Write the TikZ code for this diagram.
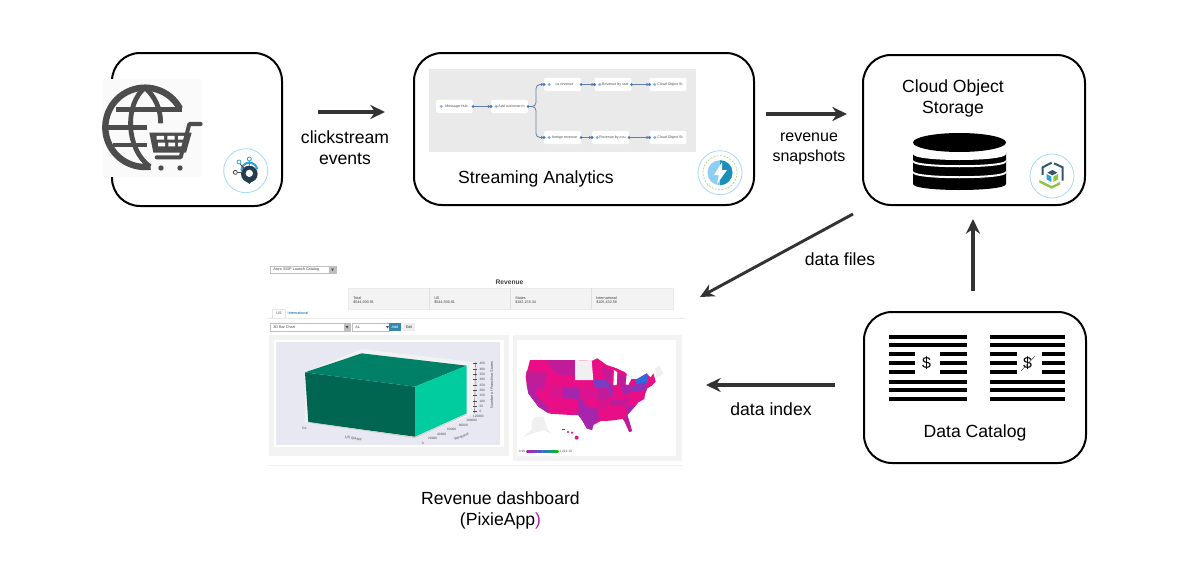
\documentclass[tikz,border=0pt]{standalone}
\usepackage{fontspec}
\setmainfont{Liberation Sans}
\usetikzlibrary{arrows.meta}
\definecolor{ink}{HTML}{333333}
\definecolor{iconink}{HTML}{4D4D4D}
\definecolor{ringblue}{HTML}{A5D8FB}
\definecolor{flowbg}{HTML}{EAEAEA}
\definecolor{flowline}{HTML}{5E7F9F}
\definecolor{flowdot}{HTML}{4472C4}
\definecolor{panel}{HTML}{F3F3F3}
\definecolor{plotbg}{HTML}{E8E8F2}
\definecolor{mp}{HTML}{EA0E86}
\definecolor{mq}{HTML}{C01C9A}
\definecolor{mr}{HTML}{A526AC}
\definecolor{ms}{HTML}{7A3CC4}
\definecolor{mt}{HTML}{3568DC}
\definecolor{mg}{HTML}{F0F0F0}
\definecolor{bartop}{HTML}{008066}
\definecolor{barleft}{HTML}{006652}
\definecolor{barright}{HTML}{00CCA0}
\definecolor{slate}{HTML}{34566F}
\definecolor{leaf}{HTML}{8CC63F}
\definecolor{sky}{HTML}{2E9FD8}
\definecolor{boltlight}{HTML}{8CCFF2}
\definecolor{boltdark}{HTML}{1A8FB8}
\tikzset{
  x=.75pt,y=-.75pt,
  boxnode/.style={draw=black,line width=1.5pt,rounded corners=21pt,fill=white,inner sep=0pt},
  flow/.style={-{Stealth[length=10.5pt,width=10pt]},draw=ink,line width=2.2pt},
  flowstraight/.style={draw=ink,line width=2.5pt,-{Stealth[length=11pt,width=10.5pt]}},
  lab/.style={font=\fontsize{13.2}{16}\selectfont,align=center,text=black,inner sep=0pt},
  badge/.style={draw=ringblue,line width=.6pt,fill=white,circle,minimum size=33pt,inner sep=0pt},
  fnode/.style={fill=white,rounded corners=1pt,minimum width=27.5pt,minimum height=10pt,inner sep=0pt,font=\fontsize{2.7}{3}\selectfont,text=black!70},
  fline/.style={draw=flowline,line width=.6pt,-{Stealth[length=2.4pt,width=2.4pt]}},
  tiny/.style={font=\fontsize{2.8}{3.2}\selectfont,text=black!75,inner sep=0pt},
  axt/.style={font=\fontsize{2.4}{3}\selectfont,text=black!70,inner sep=0pt},
  axl/.style={font=\fontsize{2.8}{3}\selectfont,text=black!70,inner sep=0pt},
  bar/.style={fill=black},
  ui/.style={draw=black!25,line width=.3pt,fill=white,inner sep=0pt}
}
\begin{document}
\begin{tikzpicture}
\useasboundingbox (0,0) rectangle (1200,564);
% ---------- boxes
\node[boxnode,minimum width=127.5pt,minimum height=114.75pt] (shop) at (197,129.5) {};
\node[boxnode,minimum width=255pt,minimum height=114pt] (stream) at (584,129) {};
\node[boxnode,minimum width=166.5pt,minimum height=112.5pt] (cos) at (974,130) {};
\node[boxnode,minimum width=166.5pt,minimum height=113.25pt] (cat) at (975,387.5) {};
% ---------- shop icon
\fill[white!98!black] (103,79) rectangle (202,177);
\begin{scope}[shift={(90,40)},scale=1/3]
  \draw[iconink,line width=4.8pt] (165,262) ++(-28:119) arc[start angle=-28,end angle=-278,radius=119];
  \draw[iconink,line width=3.6pt] (165,143) .. controls (105,190) and (105,325) .. (180,380);
  \draw[iconink,line width=3.6pt] (165,143) .. controls (195,170) and (212,205) .. (212,250);
  \draw[iconink,line width=3.6pt] (78,208) -- (275,208);
  \draw[iconink,line width=3.6pt] (50,262) -- (170,262);
  \draw[iconink,line width=3.6pt] (68,315) -- (170,315);
  \fill[iconink] (178,278) -- (305,278) -- (288,338) -- (190,338) -- cycle;
  \fill[white] (200,288) rectangle (222,299) (232,288) rectangle (254,299) (264,288) rectangle (286,299)
               (204,308) rectangle (225,319) (235,308) rectangle (255,319) (264,308) rectangle (282,319);
  \draw[iconink,line width=3pt,line cap=round,line join=round] (332,252) -- (298,252) -- (272,352) -- (200,352);
  \fill[iconink] (213,384) circle (8) (270,384) circle (8);
\end{scope}
% ---------- badge 1
\node[badge] (b1) at (245.7,170.7) {};
\begin{scope}[shift={(90,40)},scale=1/3]
  \fill[slate!70!black] (478,402) circle (25);
  \fill[slate!70!black] (465,420) -- (490,420) -- (478,432) -- cycle;
  \fill[white] (478,400) circle (11);
  \draw[sky,line width=1.5pt] (454,392) arc[start angle=180,end angle=350,radius=24];
  \draw[iconink,line width=.6pt] (436,397) -- (460,397);
  \draw[iconink,line width=.6pt] (447,368) -- (462,385);
  \draw[sky,line width=.6pt] (478,358) -- (478,378);
  \draw[iconink,line width=.6pt,fill=white] (436,397) circle (6);
  \draw[sky,line width=.6pt,fill=white] (447,366) circle (6) (478,357) circle (6);
\end{scope}
% ---------- streaming flow
\fill[flowbg] (429,69) rectangle (696,152);
\node[fnode] (f1) at (454.5,106.5) {\hspace*{3pt}Message Hub};
\node[fnode] (f2) at (509.5,106.5) {\hspace*{3pt}Add customer in};
\node[fnode] (f3) at (562.5,84.5) {\hspace*{3pt}us revenue};
\node[fnode] (f4) at (613,84.5) {\hspace*{3pt}Revenue by stat};
\node[fnode] (f5) at (668,84.5) {\hspace*{3pt}Cloud Object St};
\node[fnode] (f6) at (562.5,137.5) {\hspace*{3pt}foreign revenue};
\node[fnode] (f7) at (610.5,137.5) {\hspace*{3pt}Revenue by cou};
\node[fnode] (f8) at (668,137.5) {\hspace*{3pt}Cloud Object St};
\draw[fline] (f1.east) -- (f2.west);
\draw[fline] (f3.east) -- (f4.west);
\draw[fline] (f4.east) -- (f5.west);
\draw[fline] (f6.east) -- (f7.west);
\draw[fline] (f7.east) -- (f8.west);
\draw[fline,rounded corners=3pt] (f2.east) -- (536,106.5) -- (536,84.5) -- (f3.west);
\draw[fline,rounded corners=3pt] (f2.east) -- (536,106.5) -- (536,137.5) -- (f6.west);
\foreach \p in {f1,f2,f3,f4,f6,f7} \fill[flowdot] (\p.east) circle (1.6);
\foreach \p in {f2,f3,f4,f5,f6,f7,f8} \fill[flowdot] (\p.west) circle (1.6);
\foreach \p in {f1,f2,f3,f4,f5,f6,f7,f8} \fill[flowdot!60] ([xshift=4pt]\p.west) circle (1.7);
\node[lab] (sa) at (536,178.5) {Streaming Analytics};
% ---------- badge 2
\node[badge] (b2) at (720,172.7) {};
\draw[leaf!70,line width=.5pt,dash pattern=on 1.5pt off 1pt] (b2.center) circle (17);
\fill[boltlight] (b2.center) circle (12.5);
\fill[boltdark] (b2.center) ++(0,-12.5) arc[start angle=-90,end angle=90,radius=12.5] -- cycle;
\fill[white] (722,162) -- (714,175) -- (719,175) -- (717,184) -- (727,170) -- (722,170) -- cycle;
% ---------- cloud object storage
\node[lab] (costext) at (953,98.5) {Cloud Object\\[-.5pt]Storage};
\fill[black] (913,184) .. controls (913,192) and (1006,192) .. (1006,184) -- (1006,173) .. controls (1006,181) and (913,181) .. (913,173) -- cycle;
\fill[black] (913,174) .. controls (913,181) and (1006,181) .. (1006,174) -- (1006,161) .. controls (1006,169) and (913,169) .. (913,161) -- cycle;
\fill[white] (913,171) .. controls (913,178) and (1006,178) .. (1006,171) -- (1006,173) .. controls (1006,180) and (913,180) .. (913,173) -- cycle;
\fill[black] (913,163) .. controls (913,170) and (1006,170) .. (1006,163) -- (1006,152) .. controls (1006,160) and (913,160) .. (913,152) -- cycle;
\fill[white] (913,160) .. controls (913,167) and (1006,167) .. (1006,160) -- (1006,162) .. controls (1006,169) and (913,169) .. (913,162) -- cycle;
\fill[white] (913,151) .. controls (913,159) and (1006,159) .. (1006,151) -- (1006,154) .. controls (1006,162) and (913,162) .. (913,154) -- cycle;
\fill[black] (959.5,142.5) ellipse (46.5 and 9.5);
% ---------- badge 3
\node[badge] (b3) at (1052,176) {};
\begin{scope}[shift={(860,50)},scale=1/3]
  \draw[slate,line width=1.5pt] (548,375) -- (548,352) -- (575,338);
  \draw[slate,line width=1.5pt] (582,340) -- (608,352) -- (608,392);
  \fill[slate] (577,360) -- (592,368) -- (577,376) -- (562,368) -- cycle;
  \fill[sky] (560,372) -- (574,380) -- (574,396) -- (560,388) -- cycle;
  \fill[leaf] (580,380) -- (594,372) -- (594,388) -- (580,396) -- cycle;
  \fill[leaf] (538,390) -- (575,408) -- (600,396) -- (600,404) -- (575,416) -- (538,398) -- cycle;
\end{scope}
% ---------- data catalog
\foreach \y in {335,343,380,388,397} {
  \fill[bar] (889,\y) rectangle (967,\y+4);
  \fill[bar] (990,\y) rectangle (1065,\y+4);
}
\foreach \y in {352,361,370} {
  \fill[bar] (889,\y) rectangle (915,\y+4);
  \fill[bar] (940,\y) rectangle (967,\y+4);
  \fill[bar] (990,\y) rectangle (1017,\y+4);
  \fill[bar] (1042,\y) rectangle (1065,\y+4);
}
\node[font=\fontsize{12}{15}\selectfont,inner sep=0pt] (d1) at (926.5,363) {\$};
\node[font=\fontsize{12}{15}\selectfont,inner sep=0pt] (d2) at (1027.5,363) {\$};
\draw[black!70,line width=.4pt] (1021,371) -- (1035,356);
\node[lab] (dct) at (975,433) {Data Catalog};
% ---------- arrows
\coordinate (a1s) at (318,112); \coordinate (a1e) at (385,112);
\coordinate (a2s) at (766,114); \coordinate (a2e) at (847,114);
\coordinate (a3s) at (853,214); \coordinate (a3e) at (700,297);
\coordinate (a4s) at (973,291); \coordinate (a4e) at (973,219);
\coordinate (a5s) at (835,385); \coordinate (a5e) at (706,385);
\draw[flowstraight] (a1s) -- (a1e);
\draw[flowstraight] (a2s) -- (a2e);
\draw[flow] (a3s) -- (a3e);
\draw[flowstraight] (a4s) -- (a4e);
\draw[flowstraight] (a5s) -- (a5e);
\node[lab] (l1) at (345,147.5) {clickstream\\[-.5pt]events};
\node[lab,font=\fontsize{12}{16}\selectfont] (l2) at (809,149) {revenue\\[-.5pt]snapshots};
\node[lab] (l3) at (840,259) {data files};
\node[lab] (l4) at (771,409) {data index};
\node[lab] (l5) at (500.5,510.5) {Revenue dashboard\\[-.5pt](PixieApp\textcolor{mr}{)}};
% ---------- dashboard header
\node[ui,minimum width=50pt,minimum height=5.2pt,anchor=west] (dd) at (269.5,269.5) {};
\node[tiny,anchor=west] (ddt) at (273,269.5) {Astro SIDP Launch Catalog};
\fill[black!25] (329,266.5) rectangle (336,272.5);
\fill[black!70] (331,268.5) -- (334,268.5) -- (332.5,271) -- cycle;
\node[font=\bfseries\fontsize{5}{6}\selectfont,text=black!75,inner sep=0pt] (rev) at (509.5,282) {Revenue};
\fill[panel] (348,288) rectangle (673,309);
\draw[black!8,line width=.4pt] (348,288) rectangle (673,309);
\foreach \x in {429,510,591} \draw[black!12,line width=.5pt] (\x,288) -- (\x,309);
\node[tiny,anchor=west] (t1) at (353,298) {Total};
\node[tiny,anchor=west] (t1v) at (353,302) {\$544,590.91};
\node[tiny,anchor=west] (t2) at (434,298) {US};
\node[tiny,anchor=west] (t2v) at (434,302) {\$544,590.91};
\node[tiny,anchor=west] (t3) at (515,298) {States};
\node[tiny,anchor=west] (t3v) at (515,302) {\$182,155.34};
\node[tiny,anchor=west] (t4) at (596,298) {International};
\node[tiny,anchor=west] (t4v) at (596,302) {\$105,432.58};
\draw[black!8,line width=.5pt] (267,318.5) -- (685,318.5);
\draw[black!10,line width=.3pt] (272,318) -- (272,309) -- (285,309) -- (285,318);
\node[tiny] (tab1) at (279,313.5) {US};
\node[tiny,text=blue!40!cyan!60!black] (tab2) at (298,313.5) {International};
\node[ui,minimum width=60pt,minimum height=5.6pt,anchor=west] (s1) at (269.5,327) {};
\node[tiny,anchor=west] (s1t) at (273,327) {3D Bar Chart};
\fill[black!25] (344,323.5) rectangle (350,330.5);
\fill[black!70] (345.5,326) -- (348.5,326) -- (347,328.5) -- cycle;
\node[ui,minimum width=28pt,minimum height=5.6pt,anchor=west] (s2) at (351.5,327) {};
\node[tiny,anchor=west] (s2t) at (355,327) {AL};
\fill[black!70] (386,326) -- (389,326) -- (387.5,328.5) -- cycle;
\fill[blue!30!cyan!60!black!80] (389,323) rectangle (401,331);
\node[tiny,text=white] (addb) at (395,327) {Add};
\fill[black!7] (403,323) rectangle (415,331);
\node[tiny] (editb) at (409,327) {Edit};
% ---------- dashboard panels
\fill[panel] (269,335) rectangle (509,456);
\fill[white] (274,340) rectangle (504,447);
\fill[plotbg] (276,342) rectangle (500,445);
\fill[panel] (513,335) rectangle (682,461);
\fill[white] (517,340) rectangle (676,456);
\draw[black!6,line width=.5pt] (267,465.5) -- (683,465.5);
% ---------- 3d chart
\begin{scope}[shift={(265,335)},scale=1/3]
  \fill[black!5] (290,42) -- (632,82) -- (632,235) -- (450,305) -- (120,262) -- (120,112) -- cycle;
  \fill[barleft] (120,112) -- (450,155) -- (450,305) -- (130,262) -- cycle;
  \fill[bartop] (120,112) -- (290,55) -- (605,92) -- (450,155) -- cycle;
  \fill[barright] (450,155) -- (605,92) -- (605,235) -- (450,305) -- cycle;
  \draw[black!20,line width=.6pt] (130,262) -- (450,308) -- (605,238);
  \draw[black!60,line width=.3pt] (632,82) -- (628,235);
  \foreach \yy/\t in {85/450,102/400,118/350,134/300,150/250,166/200,182/150,198/100,213/50,228/0} {
    \draw[black!70,line width=.3pt] (625,\yy) -- (637,\yy);
    \node[axt,anchor=west] at (643,\yy) {\t};
  }
  \node[axl,rotate=90] (zl) at (680,150) {Number of Franchise Stores};
  \node[axt] at (640,243) {120000};
  \node[axt] at (620,256) {100000};
  \node[axt] at (595,270) {80000};
  \node[axt] at (560,283) {60000};
  \node[axt] at (530,297) {40000};
  \node[axt] at (503,311) {20000};
  \node[axt] at (473,325) {0};
  \node[axt] at (118,281) {CA};
  \node[axl,rotate=-8] (xl) at (265,310) {US States};
  \node[axl,rotate=22] (yl) at (590,305) {Revenue};
\end{scope}
% ---------- map
\begin{scope}[shift={(510,335)},scale=1/3]
  % US base
  \fill[mp] (60,75) -- (110,75) -- (195,75) -- (245,78) -- (262,70) -- (290,90) -- (320,100) -- (345,112) -- (365,132) -- (385,132) -- (410,115) -- (422,128) -- (430,115) -- (437,140) -- (425,152) -- (412,160) -- (405,178) -- (403,192) -- (385,202) -- (375,215) -- (352,240) -- (366,288) -- (358,291) -- (345,262) -- (338,252) -- (300,257) -- (272,258) -- (250,270) -- (246,285) -- (230,280) -- (218,258) -- (205,240) -- (182,240) -- (120,236) -- (85,215) -- (55,175) -- (47,125) -- cycle;
  \fill[mq] (49,108) -- (112,115) -- (102,165) -- (50,150) -- cycle; % OR
  \fill[mr!50!mq] (50,150) -- (80,155) -- (78,178) -- (120,225) -- (115,235) -- (85,215) -- (55,175) -- cycle; % CA
  \fill[mq] (110,75) -- (195,75) -- (195,122) -- (143,118) -- (122,98) -- cycle; % MT
  \fill[mg] (195,75) -- (245,78) -- (250,135) -- (195,135) -- cycle; % ND SD
  \fill[mp!60!mq] (122,147) -- (158,155) -- (155,190) -- (120,190) -- cycle; % UT
  \fill[mr] (158,155) -- (208,158) -- (208,192) -- (158,190) -- cycle; % CO
  \fill[mp!60!mq] (208,158) -- (262,162) -- (262,192) -- (208,192) -- cycle; % KS
  \fill[mr] (205,195) -- (222,195) -- (225,212) -- (262,222) -- (268,248) -- (250,270) -- (246,285) -- (230,280) -- (218,258) -- (205,240) -- (180,238) -- (205,235) -- cycle; % TX
  \fill[mp!50!mq] (262,192) -- (290,192) -- (290,225) -- (262,222) -- cycle; % AR
  \fill[ms] (250,133) -- (288,133) -- (295,158) -- (255,160) -- cycle; % IA
  \fill[mr!50!ms] (288,133) -- (308,150) -- (308,190) -- (295,170) -- cycle; % IL
  \fill[mq] (262,160) -- (295,160) -- (300,190) -- (265,195) -- cycle; % MO
  \fill[mq] (274,95) -- (305,110) -- (305,133) -- (288,133) -- cycle; % WI
  \fill[mq] (322,120) -- (345,118) -- (345,150) -- (320,150) -- cycle; % MI
  \fill[mr] (333,150) -- (362,150) -- (362,175) -- (340,180) -- cycle; % OH
  \fill[ms!60!mr] (362,150) -- (408,145) -- (410,165) -- (366,170) -- cycle; % PA
  \fill[mt] (375,135) -- (410,115) -- (415,142) -- (380,147) -- cycle; % NY
  \fill[mq] (300,195) -- (365,190) -- (345,210) -- (298,210) -- cycle; % KY TN
  \fill[mr] (345,210) -- (375,213) -- (355,236) -- cycle; % SC
  \fill[mq] (340,240) -- (352,240) -- (366,288) -- (358,291) -- (345,262) -- cycle; % FL
  \fill[white] (312,105) -- (322,112) -- (320,150) -- (310,150) -- cycle; % Lake Michigan
  \fill[white] (350,118) -- (365,130) -- (355,150) -- (347,148) -- cycle; % Lake Huron
  \fill[mg] (435,100) -- (448,92) -- (460,115) -- (440,130) -- cycle; % ME
  \fill[mg] (75,245) -- (100,245) -- (112,280) -- (125,297) -- (100,285) -- (70,295) -- (40,305) -- (65,285) -- (65,262) -- cycle; % AK
  \fill[mp] (156,281) rectangle (164,286);
  \fill[mp] (174,291) circle (3.5) (186,293) circle (3.5) (200,308) circle (6);
  % legend
  \shade[left color=mq,right color=mt] (50,345) rectangle (98,352);
  \shade[left color=mt,right color=green!80!black] (98,345) rectangle (145,352);
  \node[axt] (lmin) at (36,348.5) {0.99};
  \node[axt] (lmax) at (167,348.5) {1,213.19};
\end{scope}
\end{tikzpicture}
\end{document}
